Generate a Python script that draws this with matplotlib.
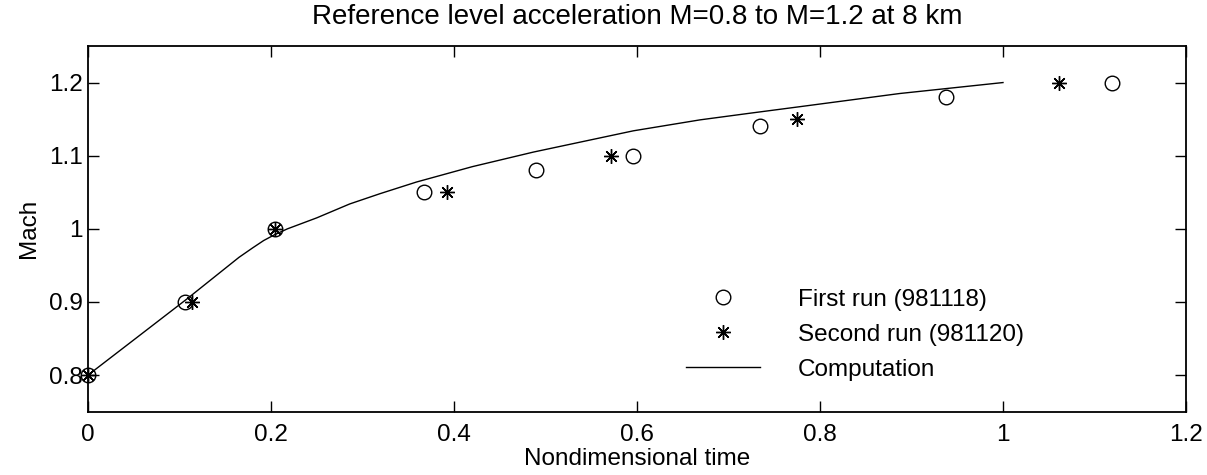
import matplotlib
matplotlib.use("Agg")
import matplotlib.pyplot as plt

plt.rcParams["font.family"] = ["Liberation Sans", "DejaVu Sans"]

# First run (981118), circles
t_first = [0.0, 0.106, 0.204, 0.367, 0.490, 0.596, 0.734, 0.938, 1.119]
m_first = [0.80, 0.90, 1.00, 1.05, 1.08, 1.10, 1.14, 1.18, 1.20]

# Second run (981120), asterisks
t_second = [0.0, 0.114, 0.204, 0.392, 0.572, 0.775, 1.061]
m_second = [0.80, 0.90, 1.00, 1.05, 1.10, 1.15, 1.20]

# Computation curve
t_comp = [0.0, 0.053, 0.108, 0.135, 0.165, 0.180, 0.192, 0.204, 0.218, 0.250,
          0.286, 0.319, 0.359, 0.420, 0.487, 0.596, 0.669, 0.723, 0.778, 0.887, 1.0]
m_comp = [0.800, 0.851, 0.904, 0.931, 0.961, 0.974, 0.984, 0.992, 1.000, 1.015,
          1.034, 1.048, 1.064, 1.085, 1.105, 1.134, 1.149, 1.158, 1.167, 1.185, 1.200]

fig = plt.figure(figsize=(12.07, 4.75), dpi=100)
ax = fig.add_axes([0.0729, 0.1333, 0.9097, 0.7699])

ax.plot(t_first, m_first, linestyle="none", marker="o", markersize=10.5,
        markerfacecolor="none", markeredgecolor="black", markeredgewidth=1.0,
        label="First run (981118)", clip_on=False)
ax.plot(t_second, m_second, linestyle="none", marker=(8, 2, 0), markersize=10.5,
        color="black", markeredgewidth=1.0, label="Second run (981120)", clip_on=False)
ax.plot(t_comp, m_comp, color="black", linewidth=1.0, label="Computation")

ax.set_xlim(0, 1.2)
ax.set_ylim(0.75, 1.25)
ax.set_xticks([0, 0.2, 0.4, 0.6, 0.8, 1.0, 1.2])
ax.set_xticklabels(["0", "0.2", "0.4", "0.6", "0.8", "1", "1.2"])
ax.set_yticks([0.8, 0.9, 1.0, 1.1, 1.2])
ax.set_yticklabels(["0.8", "0.9", "1", "1.1", "1.2"])
ax.tick_params(direction="in", length=8, width=1.0, top=True, right=True,
               labelsize=17.5)
ax.tick_params(axis="x", pad=9)
ax.tick_params(axis="y", pad=4)
for sp in ax.spines.values():
    sp.set_linewidth(1.3)

ax.set_xlabel("Nondimensional time", fontsize=17.5, labelpad=1)
ax.set_ylabel("Mach", fontsize=17.5, labelpad=6)
ax.set_title("Reference level acceleration M=0.8 to M=1.2 at 8 km", fontsize=20, pad=16)

ax.legend(loc="upper left", bbox_to_anchor=(0.5446, 0.336), borderaxespad=0,
          borderpad=0, frameon=False, fontsize=17.5, handlelength=3.05,
          handletextpad=1.55, labelspacing=0.53)

fig.savefig("out.png", dpi=100)
